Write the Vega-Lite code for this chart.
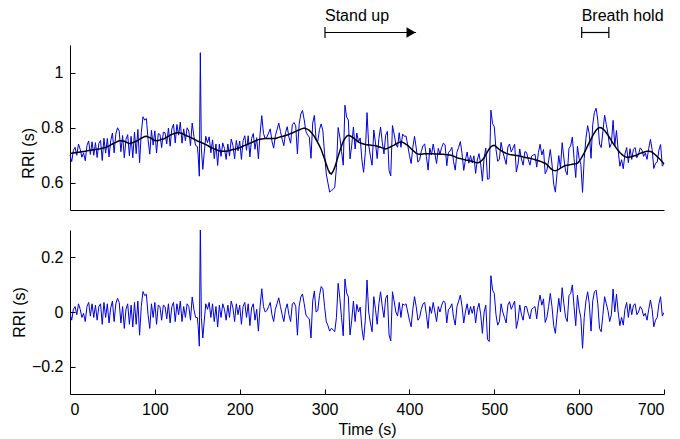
{
"$schema": "https://vega.github.io/schema/vega-lite/v6.json",
"padding": {"left": 11, "top": 7, "right": 5, "bottom": 5},
"config": {
  "font": "Liberation Sans",
  "view": {"stroke": null},
  "axis": {"domainColor": "#000000", "tickColor": "#000000", "labelColor": "#000000", "titleColor": "#000000", "labelFontSize": 16, "titleFontSize": 16, "titleFontWeight": "normal", "grid": false, "tickSize": -5, "labelPadding": 12, "domainWidth": 1, "tickWidth": 1}
},
"spacing": 20,
"datasets": {
  "events": [
    {"label": "Stand up", "start": 300.5, "end": 407.8, "kind": "arrow"},
    {"label": "Breath hold", "start": 603, "end": 635, "kind": "bracket"}
  ],
  "rr": [
{"t":0,"rri":0.700,"trend":0.705,"detr":-0.005},
{"t":2,"rri":0.676,"trend":0.706,"detr":-0.03},
{"t":4,"rri":0.717,"trend":0.707,"detr":0.01},
{"t":6,"rri":0.728,"trend":0.708,"detr":0.02},
{"t":8,"rri":0.699,"trend":0.709,"detr":-0.01},
{"t":10,"rri":0.740,"trend":0.710,"detr":0.03},
{"t":12,"rri":0.721,"trend":0.711,"detr":0.01},
{"t":14,"rri":0.692,"trend":0.712,"detr":-0.02},
{"t":16,"rri":0.708,"trend":0.713,"detr":-0.005},
{"t":18,"rri":0.679,"trend":0.714,"detr":-0.035},
{"t":20,"rri":0.735,"trend":0.715,"detr":0.02},
{"t":22,"rri":0.751,"trend":0.716,"detr":0.035},
{"t":24,"rri":0.702,"trend":0.717,"detr":-0.015},
{"t":26,"rri":0.748,"trend":0.718,"detr":0.03},
{"t":28,"rri":0.699,"trend":0.719,"detr":-0.02},
{"t":30,"rri":0.745,"trend":0.720,"detr":0.025},
{"t":32,"rri":0.691,"trend":0.721,"detr":-0.03},
{"t":34,"rri":0.742,"trend":0.722,"detr":0.02},
{"t":36,"rri":0.753,"trend":0.723,"detr":0.03},
{"t":38,"rri":0.680,"trend":0.725,"detr":-0.045},
{"t":40,"rri":0.761,"trend":0.726,"detr":0.035},
{"t":42,"rri":0.707,"trend":0.727,"detr":-0.02},
{"t":44,"rri":0.760,"trend":0.730,"detr":0.03},
{"t":46,"rri":0.693,"trend":0.733,"detr":-0.04},
{"t":48,"rri":0.752,"trend":0.737,"detr":0.015},
{"t":50,"rri":0.780,"trend":0.740,"detr":0.04},
{"t":52,"rri":0.708,"trend":0.743,"detr":-0.035},
{"t":54,"rri":0.776,"trend":0.746,"detr":0.03},
{"t":56,"rri":0.799,"trend":0.749,"detr":0.05},
{"t":58,"rri":0.787,"trend":0.752,"detr":0.035},
{"t":60,"rri":0.712,"trend":0.752,"detr":-0.04},
{"t":62,"rri":0.771,"trend":0.751,"detr":0.02},
{"t":64,"rri":0.690,"trend":0.750,"detr":-0.06},
{"t":66,"rri":0.757,"trend":0.747,"detr":0.01},
{"t":68,"rri":0.774,"trend":0.744,"detr":0.03},
{"t":70,"rri":0.697,"trend":0.742,"detr":-0.045},
{"t":72,"rri":0.768,"trend":0.743,"detr":0.025},
{"t":74,"rri":0.690,"trend":0.745,"detr":-0.055},
{"t":76,"rri":0.783,"trend":0.748,"detr":0.035},
{"t":78,"rri":0.705,"trend":0.750,"detr":-0.045},
{"t":80,"rri":0.793,"trend":0.753,"detr":0.04},
{"t":82,"rri":0.672,"trend":0.757,"detr":-0.085},
{"t":84,"rri":0.781,"trend":0.761,"detr":0.02},
{"t":86,"rri":0.839,"trend":0.764,"detr":0.075},
{"t":88,"rri":0.827,"trend":0.767,"detr":0.06},
{"t":90,"rri":0.833,"trend":0.768,"detr":0.065},
{"t":92,"rri":0.756,"trend":0.766,"detr":-0.01},
{"t":94,"rri":0.703,"trend":0.763,"detr":-0.06},
{"t":96,"rri":0.790,"trend":0.760,"detr":0.03},
{"t":98,"rri":0.736,"trend":0.756,"detr":-0.02},
{"t":100,"rri":0.788,"trend":0.753,"detr":0.035},
{"t":102,"rri":0.707,"trend":0.752,"detr":-0.045},
{"t":104,"rri":0.778,"trend":0.753,"detr":0.025},
{"t":106,"rri":0.775,"trend":0.755,"detr":0.02},
{"t":108,"rri":0.727,"trend":0.757,"detr":-0.03},
{"t":110,"rri":0.783,"trend":0.758,"detr":0.025},
{"t":112,"rri":0.781,"trend":0.761,"detr":0.02},
{"t":114,"rri":0.740,"trend":0.765,"detr":-0.025},
{"t":116,"rri":0.798,"trend":0.768,"detr":0.03},
{"t":118,"rri":0.732,"trend":0.772,"detr":-0.04},
{"t":120,"rri":0.795,"trend":0.775,"detr":0.02},
{"t":122,"rri":0.812,"trend":0.777,"detr":0.035},
{"t":124,"rri":0.744,"trend":0.779,"detr":-0.035},
{"t":126,"rri":0.811,"trend":0.781,"detr":0.03},
{"t":128,"rri":0.772,"trend":0.782,"detr":-0.01},
{"t":130,"rri":0.820,"trend":0.780,"detr":0.04},
{"t":132,"rri":0.743,"trend":0.778,"detr":-0.035},
{"t":134,"rri":0.795,"trend":0.775,"detr":0.02},
{"t":136,"rri":0.752,"trend":0.772,"detr":-0.02},
{"t":138,"rri":0.799,"trend":0.769,"detr":0.03},
{"t":140,"rri":0.787,"trend":0.767,"detr":0.02},
{"t":142,"rri":0.734,"trend":0.764,"detr":-0.03},
{"t":144,"rri":0.816,"trend":0.761,"detr":0.055},
{"t":146,"rri":0.768,"trend":0.758,"detr":0.01},
{"t":148,"rri":0.735,"trend":0.755,"detr":-0.02},
{"t":150,"rri":0.731,"trend":0.751,"detr":-0.02},
{"t":151,"rri":0.700,"trend":0.750,"detr":-0.05},
{"t":152.4,"rri":0.623,"trend":0.748,"detr":-0.125},
{"t":153.6,"rri":1.072,"trend":0.747,"detr":0.325},
{"t":154.8,"rri":0.725,"trend":0.745,"detr":-0.02},
{"t":156.5,"rri":0.648,"trend":0.743,"detr":-0.095},
{"t":158,"rri":0.701,"trend":0.741,"detr":-0.04},
{"t":160,"rri":0.768,"trend":0.738,"detr":0.03},
{"t":162,"rri":0.745,"trend":0.735,"detr":0.01},
{"t":164,"rri":0.766,"trend":0.731,"detr":0.035},
{"t":166,"rri":0.708,"trend":0.728,"detr":-0.02},
{"t":168,"rri":0.755,"trend":0.725,"detr":0.03},
{"t":170,"rri":0.687,"trend":0.722,"detr":-0.035},
{"t":172,"rri":0.740,"trend":0.720,"detr":0.02},
{"t":174,"rri":0.662,"trend":0.717,"detr":-0.055},
{"t":176,"rri":0.740,"trend":0.715,"detr":0.025},
{"t":178,"rri":0.695,"trend":0.715,"detr":-0.02},
{"t":180,"rri":0.744,"trend":0.714,"detr":0.03},
{"t":182,"rri":0.724,"trend":0.714,"detr":0.01},
{"t":184,"rri":0.684,"trend":0.714,"detr":-0.03},
{"t":186,"rri":0.740,"trend":0.715,"detr":0.025},
{"t":188,"rri":0.696,"trend":0.716,"detr":-0.02},
{"t":190,"rri":0.758,"trend":0.718,"detr":0.04},
{"t":192,"rri":0.735,"trend":0.720,"detr":0.015},
{"t":194,"rri":0.686,"trend":0.721,"detr":-0.035},
{"t":196,"rri":0.753,"trend":0.723,"detr":0.03},
{"t":198,"rri":0.715,"trend":0.725,"detr":-0.01},
{"t":200,"rri":0.751,"trend":0.726,"detr":0.025},
{"t":202,"rri":0.684,"trend":0.729,"detr":-0.045},
{"t":204,"rri":0.752,"trend":0.732,"detr":0.02},
{"t":206,"rri":0.770,"trend":0.735,"detr":0.035},
{"t":208,"rri":0.717,"trend":0.737,"detr":-0.02},
{"t":210,"rri":0.770,"trend":0.740,"detr":0.03},
{"t":212,"rri":0.693,"trend":0.743,"detr":-0.05},
{"t":214,"rri":0.760,"trend":0.745,"detr":0.015},
{"t":216,"rri":0.778,"trend":0.748,"detr":0.03},
{"t":218,"rri":0.721,"trend":0.751,"detr":-0.03},
{"t":220,"rri":0.763,"trend":0.753,"detr":0.01},
{"t":222,"rri":0.686,"trend":0.756,"detr":-0.07},
{"t":224,"rri":0.777,"trend":0.757,"detr":0.02},
{"t":226,"rri":0.843,"trend":0.758,"detr":0.085},
{"t":228,"rri":0.779,"trend":0.759,"detr":0.02},
{"t":230,"rri":0.760,"trend":0.760,"detr":0.0},
{"t":232,"rri":0.765,"trend":0.760,"detr":0.005},
{"t":234,"rri":0.780,"trend":0.760,"detr":0.02},
{"t":236,"rri":0.795,"trend":0.760,"detr":0.035},
{"t":238,"rri":0.750,"trend":0.760,"detr":-0.01},
{"t":240,"rri":0.725,"trend":0.760,"detr":-0.035},
{"t":242,"rri":0.770,"trend":0.760,"detr":0.01},
{"t":244,"rri":0.792,"trend":0.762,"detr":0.03},
{"t":246,"rri":0.816,"trend":0.764,"detr":0.052},
{"t":248,"rri":0.786,"trend":0.766,"detr":0.02},
{"t":250,"rri":0.757,"trend":0.767,"detr":-0.01},
{"t":252,"rri":0.734,"trend":0.769,"detr":-0.035},
{"t":254,"rri":0.781,"trend":0.771,"detr":0.01},
{"t":256,"rri":0.803,"trend":0.773,"detr":0.03},
{"t":258,"rri":0.765,"trend":0.775,"detr":-0.01},
{"t":260,"rri":0.743,"trend":0.778,"detr":-0.035},
{"t":262,"rri":0.810,"trend":0.780,"detr":0.03},
{"t":264,"rri":0.818,"trend":0.783,"detr":0.035},
{"t":266,"rri":0.806,"trend":0.786,"detr":0.02},
{"t":268,"rri":0.704,"trend":0.789,"detr":-0.085},
{"t":270,"rri":0.811,"trend":0.791,"detr":0.02},
{"t":272,"rri":0.849,"trend":0.794,"detr":0.055},
{"t":274,"rri":0.862,"trend":0.796,"detr":0.066},
{"t":276,"rri":0.828,"trend":0.798,"detr":0.03},
{"t":278,"rri":0.786,"trend":0.796,"detr":-0.01},
{"t":280,"rri":0.773,"trend":0.793,"detr":-0.02},
{"t":282,"rri":0.765,"trend":0.790,"detr":-0.025},
{"t":284,"rri":0.688,"trend":0.783,"detr":-0.095},
{"t":286,"rri":0.816,"trend":0.776,"detr":0.04},
{"t":288,"rri":0.844,"trend":0.767,"detr":0.077},
{"t":290,"rri":0.756,"trend":0.756,"detr":0.0},
{"t":292,"rri":0.750,"trend":0.745,"detr":0.005},
{"t":294,"rri":0.793,"trend":0.733,"detr":0.06},
{"t":296,"rri":0.813,"trend":0.720,"detr":0.093},
{"t":298,"rri":0.788,"trend":0.703,"detr":0.085},
{"t":300,"rri":0.705,"trend":0.685,"detr":0.02},
{"t":302,"rri":0.631,"trend":0.666,"detr":-0.035},
{"t":304,"rri":0.598,"trend":0.648,"detr":-0.05},
{"t":306,"rri":0.565,"trend":0.635,"detr":-0.07},
{"t":308,"rri":0.571,"trend":0.631,"detr":-0.06},
{"t":310,"rri":0.575,"trend":0.640,"detr":-0.065},
{"t":312,"rri":0.583,"trend":0.655,"detr":-0.072},
{"t":314,"rri":0.655,"trend":0.675,"detr":-0.02},
{"t":316,"rri":0.800,"trend":0.695,"detr":0.105},
{"t":318,"rri":0.765,"trend":0.715,"detr":0.05},
{"t":320,"rri":0.713,"trend":0.733,"detr":-0.02},
{"t":322,"rri":0.663,"trend":0.750,"detr":-0.087},
{"t":324,"rri":0.881,"trend":0.760,"detr":0.121},
{"t":326,"rri":0.838,"trend":0.768,"detr":0.07},
{"t":328,"rri":0.827,"trend":0.772,"detr":0.055},
{"t":330,"rri":0.686,"trend":0.770,"detr":-0.084},
{"t":332,"rri":0.736,"trend":0.766,"detr":-0.03},
{"t":334,"rri":0.802,"trend":0.762,"detr":0.04},
{"t":336,"rri":0.722,"trend":0.757,"detr":-0.035},
{"t":338,"rri":0.780,"trend":0.752,"detr":0.028},
{"t":340,"rri":0.747,"trend":0.747,"detr":0.0},
{"t":342,"rri":0.762,"trend":0.744,"detr":0.018},
{"t":344,"rri":0.682,"trend":0.742,"detr":-0.06},
{"t":346,"rri":0.637,"trend":0.740,"detr":-0.103},
{"t":348,"rri":0.708,"trend":0.738,"detr":-0.03},
{"t":350,"rri":0.854,"trend":0.737,"detr":0.117},
{"t":352,"rri":0.736,"trend":0.736,"detr":0.0},
{"t":354,"rri":0.696,"trend":0.736,"detr":-0.04},
{"t":356,"rri":0.663,"trend":0.735,"detr":-0.072},
{"t":358,"rri":0.791,"trend":0.735,"detr":0.056},
{"t":360,"rri":0.744,"trend":0.734,"detr":0.01},
{"t":362,"rri":0.687,"trend":0.732,"detr":-0.045},
{"t":364,"rri":0.760,"trend":0.730,"detr":0.03},
{"t":366,"rri":0.802,"trend":0.728,"detr":0.074},
{"t":368,"rri":0.746,"trend":0.726,"detr":0.02},
{"t":370,"rri":0.704,"trend":0.724,"detr":-0.02},
{"t":372,"rri":0.772,"trend":0.722,"detr":0.05},
{"t":374,"rri":0.786,"trend":0.724,"detr":0.062},
{"t":376,"rri":0.643,"trend":0.727,"detr":-0.084},
{"t":378,"rri":0.624,"trend":0.730,"detr":-0.106},
{"t":380,"rri":0.807,"trend":0.733,"detr":0.074},
{"t":382,"rri":0.776,"trend":0.736,"detr":0.04},
{"t":384,"rri":0.740,"trend":0.740,"detr":0.0},
{"t":386,"rri":0.728,"trend":0.743,"detr":-0.015},
{"t":388,"rri":0.781,"trend":0.746,"detr":0.035},
{"t":390,"rri":0.728,"trend":0.748,"detr":-0.02},
{"t":392,"rri":0.776,"trend":0.746,"detr":0.03},
{"t":394,"rri":0.768,"trend":0.743,"detr":0.025},
{"t":396,"rri":0.769,"trend":0.739,"detr":0.03},
{"t":398,"rri":0.735,"trend":0.735,"detr":0.0},
{"t":400,"rri":0.699,"trend":0.729,"detr":-0.03},
{"t":402,"rri":0.669,"trend":0.723,"detr":-0.054},
{"t":404,"rri":0.727,"trend":0.717,"detr":0.01},
{"t":406,"rri":0.768,"trend":0.712,"detr":0.056},
{"t":408,"rri":0.726,"trend":0.706,"detr":0.02},
{"t":410,"rri":0.674,"trend":0.704,"detr":-0.03},
{"t":412,"rri":0.683,"trend":0.703,"detr":-0.02},
{"t":414,"rri":0.713,"trend":0.703,"detr":0.01},
{"t":416,"rri":0.734,"trend":0.704,"detr":0.03},
{"t":418,"rri":0.740,"trend":0.705,"detr":0.035},
{"t":420,"rri":0.695,"trend":0.705,"detr":-0.01},
{"t":422,"rri":0.645,"trend":0.705,"detr":-0.06},
{"t":424,"rri":0.725,"trend":0.705,"detr":0.02},
{"t":426,"rri":0.700,"trend":0.705,"detr":-0.005},
{"t":428,"rri":0.740,"trend":0.705,"detr":0.035},
{"t":430,"rri":0.704,"trend":0.704,"detr":0.0},
{"t":432,"rri":0.669,"trend":0.704,"detr":-0.035},
{"t":434,"rri":0.724,"trend":0.704,"detr":0.02},
{"t":436,"rri":0.703,"trend":0.703,"detr":0.0},
{"t":438,"rri":0.728,"trend":0.703,"detr":0.025},
{"t":440,"rri":0.743,"trend":0.703,"detr":0.04},
{"t":442,"rri":0.737,"trend":0.702,"detr":0.035},
{"t":444,"rri":0.661,"trend":0.701,"detr":-0.04},
{"t":446,"rri":0.710,"trend":0.700,"detr":0.01},
{"t":448,"rri":0.715,"trend":0.700,"detr":0.015},
{"t":450,"rri":0.728,"trend":0.698,"detr":0.03},
{"t":452,"rri":0.676,"trend":0.696,"detr":-0.02},
{"t":454,"rri":0.645,"trend":0.693,"detr":-0.048},
{"t":456,"rri":0.710,"trend":0.690,"detr":0.02},
{"t":458,"rri":0.728,"trend":0.688,"detr":0.04},
{"t":460,"rri":0.749,"trend":0.687,"detr":0.062},
{"t":462,"rri":0.705,"trend":0.685,"detr":0.02},
{"t":464,"rri":0.644,"trend":0.684,"detr":-0.04},
{"t":466,"rri":0.682,"trend":0.682,"detr":0.0},
{"t":468,"rri":0.711,"trend":0.681,"detr":0.03},
{"t":470,"rri":0.670,"trend":0.680,"detr":-0.01},
{"t":472,"rri":0.698,"trend":0.678,"detr":0.02},
{"t":474,"rri":0.671,"trend":0.676,"detr":-0.005},
{"t":476,"rri":0.697,"trend":0.675,"detr":0.022},
{"t":478,"rri":0.633,"trend":0.673,"detr":-0.04},
{"t":480,"rri":0.682,"trend":0.672,"detr":0.01},
{"t":482,"rri":0.705,"trend":0.673,"detr":0.032},
{"t":484,"rri":0.667,"trend":0.677,"detr":-0.01},
{"t":486,"rri":0.605,"trend":0.683,"detr":-0.078},
{"t":488,"rri":0.690,"trend":0.690,"detr":0.0},
{"t":490,"rri":0.725,"trend":0.700,"detr":0.025},
{"t":492,"rri":0.612,"trend":0.712,"detr":-0.1},
{"t":494,"rri":0.614,"trend":0.722,"detr":-0.108},
{"t":496,"rri":0.863,"trend":0.730,"detr":0.133},
{"t":498,"rri":0.814,"trend":0.734,"detr":0.08},
{"t":500,"rri":0.803,"trend":0.735,"detr":0.068},
{"t":502,"rri":0.721,"trend":0.731,"detr":-0.01},
{"t":504,"rri":0.677,"trend":0.725,"detr":-0.048},
{"t":506,"rri":0.685,"trend":0.720,"detr":-0.035},
{"t":508,"rri":0.746,"trend":0.716,"detr":0.03},
{"t":510,"rri":0.712,"trend":0.712,"detr":0.0},
{"t":512,"rri":0.689,"trend":0.709,"detr":-0.02},
{"t":514,"rri":0.666,"trend":0.706,"detr":-0.04},
{"t":516,"rri":0.729,"trend":0.704,"detr":0.025},
{"t":518,"rri":0.740,"trend":0.702,"detr":0.038},
{"t":520,"rri":0.711,"trend":0.701,"detr":0.01},
{"t":522,"rri":0.725,"trend":0.700,"detr":0.025},
{"t":524,"rri":0.739,"trend":0.699,"detr":0.04},
{"t":526,"rri":0.638,"trend":0.698,"detr":-0.06},
{"t":528,"rri":0.667,"trend":0.697,"detr":-0.03},
{"t":530,"rri":0.722,"trend":0.696,"detr":0.026},
{"t":532,"rri":0.685,"trend":0.695,"detr":-0.01},
{"t":534,"rri":0.663,"trend":0.693,"detr":-0.03},
{"t":536,"rri":0.712,"trend":0.692,"detr":0.02},
{"t":538,"rri":0.710,"trend":0.690,"detr":0.02},
{"t":540,"rri":0.684,"trend":0.689,"detr":-0.005},
{"t":542,"rri":0.663,"trend":0.688,"detr":-0.025},
{"t":544,"rri":0.696,"trend":0.686,"detr":0.01},
{"t":546,"rri":0.700,"trend":0.685,"detr":0.015},
{"t":548,"rri":0.703,"trend":0.683,"detr":0.02},
{"t":550,"rri":0.656,"trend":0.681,"detr":-0.025},
{"t":552,"rri":0.709,"trend":0.679,"detr":0.03},
{"t":554,"rri":0.739,"trend":0.677,"detr":0.062},
{"t":556,"rri":0.700,"trend":0.675,"detr":0.025},
{"t":558,"rri":0.720,"trend":0.672,"detr":0.048},
{"t":560,"rri":0.632,"trend":0.670,"detr":-0.038},
{"t":562,"rri":0.645,"trend":0.665,"detr":-0.02},
{"t":564,"rri":0.679,"trend":0.659,"detr":0.02},
{"t":566,"rri":0.720,"trend":0.652,"detr":0.068},
{"t":568,"rri":0.667,"trend":0.647,"detr":0.02},
{"t":570,"rri":0.594,"trend":0.644,"detr":-0.05},
{"t":572,"rri":0.565,"trend":0.643,"detr":-0.078},
{"t":574,"rri":0.635,"trend":0.645,"detr":-0.01},
{"t":576,"rri":0.698,"trend":0.648,"detr":0.05},
{"t":578,"rri":0.652,"trend":0.652,"detr":0.0},
{"t":580,"rri":0.745,"trend":0.656,"detr":0.089},
{"t":582,"rri":0.689,"trend":0.659,"detr":0.03},
{"t":584,"rri":0.642,"trend":0.662,"detr":-0.02},
{"t":586,"rri":0.628,"trend":0.663,"detr":-0.035},
{"t":588,"rri":0.724,"trend":0.664,"detr":0.06},
{"t":590,"rri":0.733,"trend":0.665,"detr":0.068},
{"t":592,"rri":0.765,"trend":0.666,"detr":0.099},
{"t":594,"rri":0.687,"trend":0.667,"detr":0.02},
{"t":596,"rri":0.618,"trend":0.668,"detr":-0.05},
{"t":598,"rri":0.732,"trend":0.670,"detr":0.062},
{"t":600,"rri":0.687,"trend":0.677,"detr":0.01},
{"t":602,"rri":0.666,"trend":0.686,"detr":-0.02},
{"t":604,"rri":0.564,"trend":0.697,"detr":-0.133},
{"t":606,"rri":0.688,"trend":0.708,"detr":-0.02},
{"t":608,"rri":0.760,"trend":0.720,"detr":0.04},
{"t":610,"rri":0.807,"trend":0.733,"detr":0.074},
{"t":612,"rri":0.776,"trend":0.746,"detr":0.03},
{"t":614,"rri":0.688,"trend":0.758,"detr":-0.07},
{"t":616,"rri":0.810,"trend":0.770,"detr":0.04},
{"t":618,"rri":0.855,"trend":0.781,"detr":0.074},
{"t":620,"rri":0.870,"trend":0.790,"detr":0.08},
{"t":622,"rri":0.827,"trend":0.797,"detr":0.03},
{"t":624,"rri":0.740,"trend":0.800,"detr":-0.06},
{"t":626,"rri":0.727,"trend":0.799,"detr":-0.072},
{"t":628,"rri":0.785,"trend":0.795,"detr":-0.01},
{"t":630,"rri":0.845,"trend":0.789,"detr":0.056},
{"t":632,"rri":0.811,"trend":0.781,"detr":0.03},
{"t":634,"rri":0.777,"trend":0.772,"detr":0.005},
{"t":636,"rri":0.727,"trend":0.762,"detr":-0.035},
{"t":638,"rri":0.742,"trend":0.752,"detr":-0.01},
{"t":640,"rri":0.826,"trend":0.742,"detr":0.084},
{"t":642,"rri":0.733,"trend":0.733,"detr":0.0},
{"t":644,"rri":0.789,"trend":0.724,"detr":0.065},
{"t":646,"rri":0.716,"trend":0.716,"detr":0.0},
{"t":648,"rri":0.659,"trend":0.709,"detr":-0.05},
{"t":650,"rri":0.683,"trend":0.703,"detr":-0.02},
{"t":652,"rri":0.650,"trend":0.698,"detr":-0.048},
{"t":654,"rri":0.704,"trend":0.694,"detr":0.01},
{"t":656,"rri":0.727,"trend":0.692,"detr":0.035},
{"t":658,"rri":0.672,"trend":0.692,"detr":-0.02},
{"t":660,"rri":0.723,"trend":0.693,"detr":0.03},
{"t":662,"rri":0.684,"trend":0.694,"detr":-0.01},
{"t":664,"rri":0.721,"trend":0.696,"detr":0.025},
{"t":666,"rri":0.727,"trend":0.697,"detr":0.03},
{"t":668,"rri":0.690,"trend":0.700,"detr":-0.01},
{"t":670,"rri":0.703,"trend":0.703,"detr":0.0},
{"t":672,"rri":0.726,"trend":0.706,"detr":0.02},
{"t":674,"rri":0.718,"trend":0.708,"detr":0.01},
{"t":676,"rri":0.695,"trend":0.710,"detr":-0.015},
{"t":678,"rri":0.707,"trend":0.712,"detr":-0.005},
{"t":680,"rri":0.684,"trend":0.714,"detr":-0.03},
{"t":682,"rri":0.724,"trend":0.714,"detr":0.01},
{"t":684,"rri":0.757,"trend":0.713,"detr":0.044},
{"t":686,"rri":0.720,"trend":0.710,"detr":0.01},
{"t":688,"rri":0.651,"trend":0.705,"detr":-0.054},
{"t":690,"rri":0.670,"trend":0.700,"detr":-0.03},
{"t":692,"rri":0.674,"trend":0.694,"detr":-0.02},
{"t":694,"rri":0.718,"trend":0.688,"detr":0.03},
{"t":696,"rri":0.738,"trend":0.682,"detr":0.056},
{"t":698,"rri":0.660,"trend":0.675,"detr":-0.015},
{"t":700,"rri":0.666,"trend":0.668,"detr":-0.002}
  ]
},
"vconcat": [
  {
    "width": 594,
    "height": 165,
    "layer": [
      {
        "data": {"name": "rr"},
        "mark": {"type": "line", "color": "#0000dd", "strokeWidth": 1},
        "encoding": {
          "x": {"field": "t", "type": "quantitative", "scale": {"domain": [0, 700], "nice": false}, "axis": {"ticks": false, "labels": false, "title": null, "domain": true}},
          "y": {"field": "rri", "type": "quantitative", "scale": {"domain": [0.5, 1.1], "nice": false, "zero": false}, "axis": {"values": [0.6, 0.8, 1.0], "format": "~g", "title": "RRI (s)", "titleAlign": "right"}}
        }
      },
      {
        "data": {"name": "rr"},
        "mark": {"type": "line", "color": "#000000", "strokeWidth": 1.5},
        "encoding": {
          "x": {"field": "t", "type": "quantitative", "scale": {"domain": [0, 700], "nice": false}},
          "y": {"field": "trend", "type": "quantitative", "scale": {"domain": [0.5, 1.1], "nice": false, "zero": false}}
        }
      },
      {
        "data": {"name": "events"},
        "mark": {"type": "rule", "color": "#000000", "strokeWidth": 1.2},
        "encoding": {
          "x": {"field": "start", "type": "quantitative", "scale": {"domain": [0, 700], "nice": false}},
          "x2": {"field": "end"},
          "y": {"datum": 1.1455, "type": "quantitative", "scale": {"domain": [0.5, 1.1], "nice": false, "zero": false}}
        }
      },
      {
        "data": {"name": "events"},
        "mark": {"type": "rule", "color": "#000000", "strokeWidth": 1.2},
        "encoding": {
          "x": {"field": "start", "type": "quantitative", "scale": {"domain": [0, 700], "nice": false}},
          "y": {"datum": 1.1255, "type": "quantitative", "scale": {"domain": [0.5, 1.1], "nice": false, "zero": false}},
          "y2": {"datum": 1.1655}
        }
      },
      {
        "data": {"name": "events"},
        "transform": [{"filter": "datum.kind === 'bracket'"}],
        "mark": {"type": "rule", "color": "#000000", "strokeWidth": 1.2},
        "encoding": {
          "x": {"field": "end", "type": "quantitative", "scale": {"domain": [0, 700], "nice": false}},
          "y": {"datum": 1.1255, "type": "quantitative", "scale": {"domain": [0.5, 1.1], "nice": false, "zero": false}},
          "y2": {"datum": 1.1655}
        }
      },
      {
        "data": {"name": "events"},
        "transform": [{"filter": "datum.kind === 'arrow'"}],
        "mark": {"type": "point", "shape": "triangle-right", "filled": true, "color": "#000000", "size": 110, "opacity": 1, "xOffset": -5},
        "encoding": {
          "x": {"field": "end", "type": "quantitative", "scale": {"domain": [0, 700], "nice": false}},
          "y": {"datum": 1.1455, "type": "quantitative", "scale": {"domain": [0.5, 1.1], "nice": false, "zero": false}}
        }
      },
      {
        "data": {"name": "events"},
        "mark": {"type": "text", "align": "left", "baseline": "alphabetic", "fontSize": 16, "color": "#000000"},
        "encoding": {
          "x": {"field": "start", "type": "quantitative", "scale": {"domain": [0, 700], "nice": false}},
          "y": {"datum": 1.188, "type": "quantitative", "scale": {"domain": [0.5, 1.1], "nice": false, "zero": false}},
          "text": {"field": "label"}
        }
      }
    ]
  },
  {
    "width": 594,
    "height": 164,
    "data": {"name": "rr"},
    "mark": {"type": "line", "color": "#0000dd", "strokeWidth": 1, "clip": true},
    "encoding": {
      "x": {"field": "t", "type": "quantitative", "scale": {"domain": [0, 700], "nice": false}, "axis": {"values": [0, 100, 200, 300, 400, 500, 600, 700], "format": "d", "title": "Time (s)", "titlePadding": 4}},
      "y": {"field": "detr", "type": "quantitative", "scale": {"domain": [-0.3, 0.3], "nice": false, "zero": false}, "axis": {"values": [-0.2, 0, 0.2], "format": "~g", "title": "RRI (s)"}}
    }
  }
]
}
